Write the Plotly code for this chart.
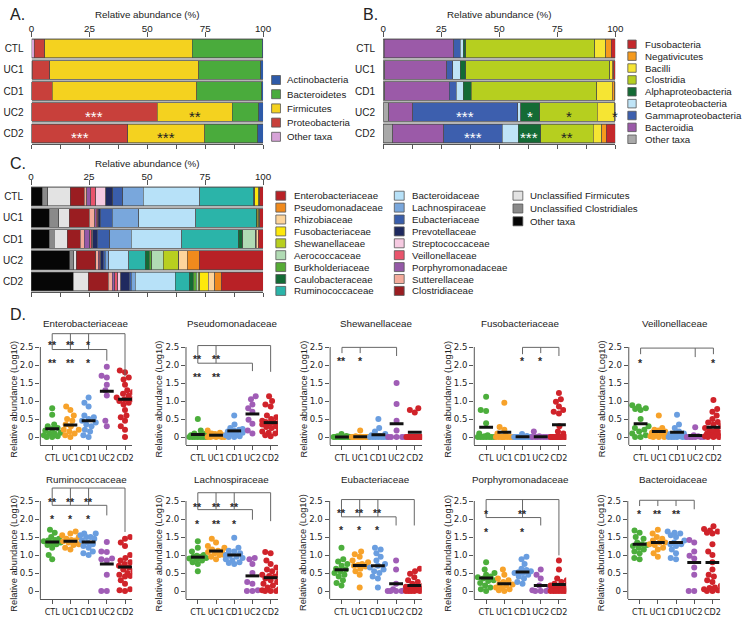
import plotly.graph_objects as go

W, H = 748, 631
FONT = "Liberation Sans, Arial, Helvetica, sans-serif"
NARROW = "Liberation Sans Narrow, Arial Narrow, DejaVu Sans Condensed, Liberation Sans, sans-serif"
TXT = "#222222"

groups = ["CTL", "UC1", "CD1", "UC2", "CD2"]

# ---------------- Panel A : phyla (stack order, left -> right) ----------------
phyla = ["Other taxa", "Proteobacteria", "Firmicutes", "Bacteroidetes", "Actinobacteria"]
phyla_colors = ["#d7a3d8", "#c8403b", "#f4d21f", "#4aab3c", "#2e5aa8"]
phyla_CTL = [1.1, 4.7, 63.6, 30.2, 0.4]
phyla_UC1 = [0.3, 7.6, 64.3, 26.8, 1.0]
phyla_CD1 = [0.2, 8.7, 62.5, 28.0, 0.6]
phyla_UC2 = [0.1, 54.1, 32.6, 11.4, 1.8]
phyla_CD2 = [0.1, 41.4, 33.3, 22.8, 2.4]
phyla_stars = [("UC2", "Proteobacteria", "***", "white"), ("UC2", "Firmicutes", "**", "#222222"),
               ("CD2", "Proteobacteria", "***", "white"), ("CD2", "Firmicutes", "***", "#222222")]

# ---------------- Panel B : classes ----------------
classes = ["Other taxa", "Bacteroidia", "Gammaproteobacteria", "Betaproteobacteria",
           "Alphaproteobacteria", "Clostridia", "Bacilli", "Negativicutes", "Fusobacteria"]
class_colors = ["#a9a9a9", "#9b5aa8", "#3d5fae", "#bfe4f7", "#146b35", "#b6cf1f",
                "#f6e533", "#f59a1d", "#c4282b"]
class_CTL = [0.4, 30.0, 2.8, 1.4, 0.9, 55.7, 4.6, 2.4, 1.8]
class_UC1 = [0.7, 26.8, 2.4, 3.3, 2.3, 62.0, 1.1, 0.8, 0.6]
class_CD1 = [0.7, 27.7, 3.1, 3.0, 3.4, 54.1, 6.7, 1.1, 0.2]
class_UC2 = [2.5, 10.2, 45.2, 1.4, 8.2, 24.7, 7.5, 0.2, 0.1]
class_CD2 = [4.1, 22.0, 25.3, 6.7, 9.8, 22.6, 3.6, 1.9, 4.0]
class_stars = [("UC2", "Gammaproteobacteria", "***", "white"), ("UC2", "Alphaproteobacteria", "*", "white"),
               ("UC2", "Clostridia", "*", "#222222"), ("UC2", "Fusobacteria", "*", "#222222"),
               ("CD2", "Gammaproteobacteria", "***", "white"), ("CD2", "Alphaproteobacteria", "***", "white"),
               ("CD2", "Clostridia", "**", "#222222")]

# ---------------- Panel C : families ----------------
families = ["Other taxa", "Unclassified Clostridiales", "Unclassified Firmicutes", "Clostridiaceae",
            "Sutterellaceae", "Porphyromonadaceae", "Veillonellaceae", "Streptococcaceae",
            "Prevotellaceae", "Eubacteriaceae", "Lachnospiraceae", "Bacteroidaceae",
            "Ruminococcaceae", "Caulobacteraceae", "Burkholderiaceae", "Aerococcaceae",
            "Shewanellaceae", "Fusobacteriaceae", "Rhizobiaceae", "Pseudomonadaceae",
            "Enterobacteriaceae"]
family_colors = ["#060606", "#8a8a8a", "#e3e3e3", "#9a1d21", "#f4ab9b", "#9459a7", "#e9546c",
                 "#f6cae1", "#1f2a5f", "#3a5eab", "#79a7dc", "#b7e1f8", "#2bb4a9", "#136a35",
                 "#56ab35", "#b1dbb4", "#b8cf1f", "#fde80c", "#fdd49b", "#f08a1d", "#b82126"]
fam_CTL = [4.9, 2.2, 9.8, 6.1, 1.0, 1.8, 2.0, 4.3, 3.2, 4.2, 8.9, 24.3, 23.3, 0.3, 0.0, 0.0, 0.1, 1.8, 0.2, 0.2, 1.4]
fam_UC1 = [7.8, 4.2, 4.5, 8.5, 2.5, 0.6, 0.6, 0.3, 0.9, 5.0, 11.6, 24.4, 26.1, 0.5, 0.0, 0.0, 0.1, 0.5, 0.3, 0.2, 1.4]
fam_CD1 = [7.8, 2.1, 5.6, 5.8, 1.6, 2.5, 0.7, 0.4, 2.0, 5.4, 9.2, 21.9, 24.4, 1.7, 0.1, 5.7, 0.0, 0.1, 0.9, 0.1, 2.0]
fam_UC2 = [16.7, 1.8, 0.9, 8.4, 1.2, 0.4, 0.4, 0.2, 1.2, 0.8, 1.5, 8.7, 7.1, 1.7, 1.0, 4.9, 6.7, 0.0, 3.8, 5.1, 27.5]
fam_CD2 = [18.1, 0.0, 6.6, 8.5, 1.8, 1.0, 1.4, 1.2, 3.8, 0.7, 1.8, 17.2, 6.0, 1.8, 1.4, 0.7, 0.7, 3.6, 2.8, 2.8, 18.1]

# ---------------- Panel D : per-family log10 abundance (CTL, UC1, CD1, UC2, CD2) ----------------
group_colors = ["#4cae3c", "#f7a22a", "#6a9ee0", "#a05db6", "#d0232a"]

entero = [[0.8, 0.62, 0.35, 0.3, 0.25, 0.22, 0.18, 0.12, 0.1, 0.05, 0.02, 0.0, 0.0, 0.1],
          [0.85, 0.75, 0.6, 0.5, 0.45, 0.35, 0.3, 0.2, 0.15, 0.1, 0.05, 0.0, 0.2],
          [1.1, 0.95, 0.85, 0.6, 0.55, 0.5, 0.45, 0.4, 0.3, 0.2, 0.15, 0.05, 0.0, 0.35],
          [1.95, 1.7, 1.65, 1.45, 1.3, 1.15, 0.45, 0.3],
          [1.85, 1.8, 1.65, 1.6, 1.45, 1.3, 1.25, 1.15, 1.1, 1.05, 1.0, 0.95, 0.9, 0.75, 0.6, 0.55,
           0.45, 0.3, 0.2, 0.0, 1.2, 1.05]]
entero_mean = [0.23, 0.33, 0.45, 1.27, 1.05]
pseudo = [[0.5, 0.18, 0.1, 0.08, 0.05, 0.04, 0.02, 0.0, 0.0, 0.0, 0.0, 0.0, 0.0, 0.0],
          [0.18, 0.12, 0.1, 0.08, 0.05, 0.04, 0.02, 0.02, 0.0, 0.0, 0.0, 0.0, 0.0],
          [0.6, 0.35, 0.25, 0.22, 0.2, 0.18, 0.15, 0.12, 0.1, 0.08, 0.05, 0.02, 0.0, 0.0],
          [1.13, 1.05, 0.9, 0.8, 0.7, 0.48, 0.37, 0.18, 0.1],
          [1.13, 1.0, 0.9, 0.85, 0.55, 0.5, 0.45, 0.42, 0.4, 0.38, 0.35, 0.3, 0.28, 0.25, 0.2, 0.15,
           0.12, 0.1, 0.05, 0.02, 0.6, 0.4]]
pseudo_mean = [0.07, 0.05, 0.17, 0.64, 0.4]
shewan = [[0.08, 0.03, 0.02, 0.01, 0, 0, 0, 0, 0, 0, 0, 0, 0, 0],
          [0.18, 0.02, 0, 0, 0, 0, 0, 0, 0, 0, 0, 0, 0],
          [0.5, 0.25, 0.15, 0.08, 0.05, 0.03, 0.02, 0, 0, 0, 0, 0, 0, 0],
          [1.5, 0.92, 0.45, 0.18, 0.0, 0, 0, 0, 0],
          [0.8, 0.75, 0.68, 0, 0, 0, 0, 0, 0, 0, 0, 0, 0, 0, 0, 0, 0, 0, 0, 0, 0, 0]]
shewan_mean = [0.0, 0.01, 0.06, 0.37, 0.13]
fuso = [[1.12, 0.75, 0.72, 0.38, 0.1, 0.05, 0.02, 0, 0, 0, 0, 0, 0, 0],
        [0.95, 0.28, 0.2, 0.1, 0.05, 0, 0, 0, 0, 0, 0, 0, 0],
        [0.08, 0.03, 0, 0, 0, 0, 0, 0, 0, 0, 0, 0, 0, 0],
        [0.15, 0.02, 0, 0, 0, 0, 0, 0, 0],
        [1.22, 1.05, 0.98, 0.85, 0.75, 0.7, 0.65, 0.3, 0.15, 0.1, 0, 0, 0, 0, 0, 0, 0, 0, 0, 0, 0, 0]]
fuso_mean = [0.27, 0.13, 0.01, 0.01, 0.34]
veill = [[0.88, 0.85, 0.8, 0.78, 0.75, 0.5, 0.3, 0.2, 0.15, 0.1, 0.05, 0.0, 0.0, 0.25],
         [0.6, 0.25, 0.2, 0.18, 0.15, 0.12, 0.1, 0.08, 0.05, 0.02, 0, 0, 0],
         [0.62, 0.35, 0.25, 0.15, 0.1, 0.08, 0.05, 0.02, 0, 0, 0, 0, 0, 0],
         [0.27, 0.05, 0.02, 0, 0, 0, 0, 0, 0],
         [1.03, 0.78, 0.7, 0.6, 0.5, 0.42, 0.35, 0.3, 0.25, 0.2, 0.18, 0.15, 0.12, 0.1, 0.08, 0.05,
          0.03, 0.02, 0, 0, 0, 0.4]]
veill_mean = [0.37, 0.15, 0.13, 0.04, 0.27]
rumino = [[1.7, 1.62, 1.5, 1.45, 1.4, 1.38, 1.35, 1.3, 1.28, 1.2, 1.0, 0.88, 1.42, 1.33],
          [1.65, 1.6, 1.5, 1.45, 1.42, 1.4, 1.38, 1.35, 1.3, 1.28, 1.2, 1.15, 1.55],
          [1.6, 1.6, 1.55, 1.5, 1.45, 1.4, 1.35, 1.3, 1.25, 1.2, 1.1, 1.05, 1.0, 1.5],
          [1.36, 1.1, 1.08, 0.9, 0.88, 0.85, 0.45, 0.0, 0.0],
          [1.5, 1.45, 1.35, 1.25, 1.0, 0.92, 0.85, 0.75, 0.7, 0.65, 0.6, 0.55, 0.5, 0.45, 0.42, 0.4,
           0.3, 0.2, 0.05, 0.02, 0.0, 0.8]]
rumino_mean = [1.36, 1.38, 1.36, 0.75, 0.67]
lachno = [[1.38, 1.2, 1.1, 1.0, 0.98, 0.95, 0.92, 0.9, 0.88, 0.85, 0.8, 0.75, 0.55, 0.95],
          [1.45, 1.35, 1.25, 1.2, 1.15, 1.12, 1.1, 1.05, 1.0, 1.0, 0.95, 0.88, 1.08],
          [1.48, 1.2, 1.12, 1.1, 1.05, 1.0, 0.98, 0.95, 0.92, 0.88, 0.85, 0.8, 0.78, 0.75],
          [0.92, 0.88, 0.75, 0.5, 0.25, 0.2, 0.02, 0.0, 0.0],
          [1.08, 1.05, 0.85, 0.75, 0.65, 0.6, 0.55, 0.5, 0.45, 0.42, 0.4, 0.35, 0.3, 0.25, 0.2, 0.15,
           0.1, 0.05, 0.02, 0, 0, 0]]
lachno_mean = [0.94, 1.11, 1.0, 0.42, 0.37]
eubac = [[1.2, 0.88, 0.82, 0.75, 0.7, 0.62, 0.6, 0.55, 0.5, 0.45, 0.4, 0.3, 0.22, 0.15],
         [1.1, 1.02, 0.95, 0.85, 0.8, 0.75, 0.72, 0.7, 0.68, 0.62, 0.55, 0.45, 0.1],
         [1.2, 1.15, 1.05, 0.95, 0.85, 0.75, 0.7, 0.65, 0.6, 0.55, 0.5, 0.4, 0.35, 0.1],
         [0.85, 0.6, 0.2, 0.05, 0.02, 0, 0, 0, 0],
         [0.62, 0.55, 0.48, 0.38, 0.3, 0.25, 0.2, 0.15, 0.12, 0.1, 0.08, 0.05, 0.05, 0.03, 0.02,
          0, 0, 0, 0, 0, 0, 0.1]]
eubac_mean = [0.59, 0.71, 0.7, 0.2, 0.15]
porph = [[0.8, 0.6, 0.5, 0.45, 0.4, 0.38, 0.35, 0.3, 0.28, 0.22, 0.15, 0.1, 0.05, 0.0],
         [0.6, 0.45, 0.35, 0.3, 0.25, 0.2, 0.15, 0.1, 0.08, 0.05, 0.02, 0, 0.18],
         [0.95, 0.88, 0.75, 0.62, 0.58, 0.55, 0.52, 0.5, 0.45, 0.4, 0.35, 0.25, 0.2, 0.5],
         [0.6, 0.45, 0.35, 0.15, 0.05, 0.02, 0, 0, 0],
         [0.85, 0.6, 0.35, 0.25, 0.2, 0.15, 0.12, 0.1, 0.08, 0.05, 0.05, 0.03, 0.02, 0, 0, 0, 0, 0,
          0, 0, 0.3, 0.15]]
porph_mean = [0.36, 0.2, 0.53, 0.15, 0.18]
bacter = [[1.68, 1.62, 1.5, 1.45, 1.35, 1.3, 1.28, 1.25, 1.2, 1.15, 1.1, 1.05, 0.92, 0.88],
          [1.7, 1.6, 1.5, 1.45, 1.4, 1.35, 1.3, 1.28, 1.2, 1.15, 1.05, 0.95, 1.35],
          [1.65, 1.62, 1.6, 1.55, 1.5, 1.4, 1.35, 1.3, 1.25, 1.15, 1.05, 0.92, 0.88, 1.3],
          [1.42, 1.35, 1.1, 0.98, 0.9, 0.65, 0.45, 0.0, 0.0],
          [1.8, 1.72, 1.68, 1.65, 1.62, 1.6, 1.3, 1.1, 1.0, 0.8, 0.6, 0.45, 0.4, 0.3, 0.25, 0.15,
           0.1, 0.08, 0.05, 0.02, 0, 0]]
bacter_mean = [1.3, 1.35, 1.35, 0.79, 0.79]

# significance brackets: (level, from_group, to_group, [(group, drop_to_level), ...]) ; stars: (group, level, text)
entero_br = [(2.87, 0, 4, [(0, 2.43), (1, 2.43), (2, 2.43), (4, 1.68)]), (2.43, 0, 3, [(3, 2.12)])]
entero_st = [(0, 2.6, "**"), (1, 2.6, "**"), (2, 2.6, "*"), (0, 2.1, "**"), (1, 2.1, "**"), (2, 2.1, "*")]
pseudo_br = [(2.54, 0, 4, [(0, 2.05), (1, 2.05), (4, 1.81)]), (2.05, 0, 3, [(3, 1.83)])]
pseudo_st = [(0, 2.22, "**"), (1, 2.22, "**"), (0, 1.73, "**"), (1, 1.73, "**")]
shewan_br = [(2.49, 0, 3, [(0, 2.33), (1, 2.33), (3, 2.25)])]
shewan_st = [(0, 2.16, "**"), (1, 2.16, "*")]
fuso_br = [(2.49, 2, 4, [(2, 2.3), (3, 2.33), (4, 2.25)])]
fuso_st = [(2, 2.16, "*"), (3, 2.16, "*")]
veill_br = [(2.47, 0, 4, [(0, 2.3), (3, 2.22), (4, 2.3)])]
veill_st = [(0, 2.12, "*"), (4, 2.12, "*")]
rumino_br = [(2.86, 0, 4, [(0, 2.38), (1, 2.38), (2, 2.38), (4, 1.64)]), (2.38, 0, 3, [(3, 2.1)])]
rumino_st = [(0, 2.54, "**"), (1, 2.54, "**"), (2, 2.54, "**"), (0, 2.06, "*"), (1, 2.06, "*"), (2, 2.06, "*")]
lachno_br = [(2.73, 0, 4, [(0, 2.26), (1, 2.26), (2, 2.26), (4, 1.94)]), (2.26, 0, 3, [(3, 1.98)])]
lachno_st = [(0, 2.4, "**"), (1, 2.4, "**"), (2, 2.4, "**"), (0, 1.92, "*"), (1, 1.92, "**"), (2, 1.92, "*")]
eubac_br = [(2.54, 0, 4, [(0, 2.06), (1, 2.06), (2, 2.06), (4, 1.82)]), (2.06, 0, 3, [(3, 1.82)])]
eubac_st = [(0, 2.22, "**"), (1, 2.22, "**"), (2, 2.22, "**"), (0, 1.75, "*"), (1, 1.75, "*"), (2, 1.75, "*")]
porph_br = [(2.54, 0, 4, [(0, 2.04), (2, 2.04), (4, 0.99)]), (2.04, 0, 3, [(3, 1.82)])]
porph_st = [(0, 2.19, "*"), (2, 2.19, "**"), (0, 1.69, "*"), (2, 1.69, "*")]
bacter_br = [(2.52, 0, 3, [(0, 2.36), (1, 2.36), (2, 2.36), (3, 2.27)])]
bacter_st = [(0, 2.2, "*"), (1, 2.2, "**"), (2, 2.2, "**")]

d_panels = [
    ("Enterobacteriaceae", entero, entero_mean, entero_br, entero_st),
    ("Pseudomonadaceae", pseudo, pseudo_mean, pseudo_br, pseudo_st),
    ("Shewanellaceae", shewan, shewan_mean, shewan_br, shewan_st),
    ("Fusobacteriaceae", fuso, fuso_mean, fuso_br, fuso_st),
    ("Veillonellaceae", veill, veill_mean, veill_br, veill_st),
    ("Ruminococcaceae", rumino, rumino_mean, rumino_br, rumino_st),
    ("Lachnospiraceae", lachno, lachno_mean, lachno_br, lachno_st),
    ("Eubacteriaceae", eubac, eubac_mean, eubac_br, eubac_st),
    ("Porphyromonadaceae", porph, porph_mean, porph_br, porph_st),
    ("Bacteroidaceae", bacter, bacter_mean, bacter_br, bacter_st),
]

# ============================ helpers ============================
def P(x):
    return x / W


def Q(y):
    return 1 - y / H


def xkey(k):
    return "xaxis" if k == 1 else f"xaxis{k}"


def ykey(k):
    return "yaxis" if k == 1 else f"yaxis{k}"


def xref(k):
    return "x" if k == 1 else f"x{k}"


def yref(k):
    return "y" if k == 1 else f"y{k}"


fig = go.Figure()
layout = dict(width=W, height=H, margin=dict(l=0, r=0, t=0, b=0), paper_bgcolor="white",
              plot_bgcolor="white", barmode="stack", bargap=0.12, showlegend=False,
              font=dict(family=FONT, size=10, color=TXT))
shapes = []
annots = []


def text(x, y, s, size=10, xanchor="center", yanchor="middle", angle=0, color=TXT, family=FONT, **kw):
    annots.append(dict(x=P(x), y=Q(y), xref="paper", yref="paper", text=s, showarrow=False,
                       xanchor=xanchor, yanchor=yanchor, textangle=angle,
                       font=dict(family=family, size=size, color=color), **kw))


def legend(items, x_sw, x_txt, y0, dy, sw_w, sw_h, size=9.7):
    for i, (name, col) in enumerate(items):
        yc = y0 + i * dy
        shapes.append(dict(type="rect", xref="paper", yref="paper", x0=P(x_sw), x1=P(x_sw + sw_w),
                           y0=Q(yc + sw_h / 2), y1=Q(yc - sw_h / 2), fillcolor=col,
                           line=dict(color="#555555", width=0.8)))
        text(x_txt, yc, name, size=size, xanchor="left")


def stacked(kx, ky, xpx, ypx, taxa, colors, rows, title_y, lab_len, stars):
    xa, xb, xc, ya = xref(kx), xref(kx + 1), xref(kx + 2), yref(ky)
    ypos = list(range(len(groups)))
    for j, tax in enumerate(taxa):
        fig.add_trace(go.Bar(x=[r[j] for r in rows], y=ypos, orientation="h", name=tax,
                             marker=dict(color=colors[j], line=dict(color="#4a4a4a", width=0.6)),
                             xaxis=xa, yaxis=ya, hoverinfo="skip"))
    for xo in (xb, xc):
        fig.add_trace(go.Scatter(x=[0, 100], y=[0, 0], mode="none", xaxis=xo, yaxis=ya,
                                 hoverinfo="skip", showlegend=False))
    layout[xkey(kx)] = dict(domain=[P(xpx[0]), P(xpx[1])], range=[0, 100], side="top", anchor=ya,
                            tickvals=[0, 25, 50, 75, 100], ticks="outside", ticklen=lab_len,
                            tickcolor="rgba(0,0,0,0)", showline=False, showgrid=False,
                            zeroline=False, tickfont=dict(size=9.8))
    layout[xkey(kx + 1)] = dict(overlaying=xa, range=[0, 100], side="bottom", anchor=ya,
                                tick0=0, dtick=12.5, ticks="outside", ticklen=4, tickcolor="#555555",
                                showticklabels=False, showline=True, linecolor="#555555",
                                linewidth=1, showgrid=False, zeroline=False)
    layout[xkey(kx + 2)] = dict(overlaying=xa, range=[0, 100], side="top", anchor=ya,
                                tickvals=[0, 25, 50, 75, 100], ticks="outside", ticklen=5,
                                tickcolor="#555555", showticklabels=False, showline=False,
                                showgrid=False, zeroline=False)
    layout[ykey(ky)] = dict(domain=[Q(ypx[1]), Q(ypx[0])], range=[4.5, -0.5], anchor=xa,
                            tickvals=ypos, ticktext=groups, ticks="outside", ticklen=5,
                            tickcolor="rgba(0,0,0,0)", showline=False, showgrid=False,
                            zeroline=False, tickfont=dict(size=10))
    shapes.append(dict(type="rect", xref=xa, yref=ya, x0=0, x1=100, y0=-0.5, y1=4.5,
                       fillcolor="#b5b5b5", line=dict(width=0), layer="below"))
    text((xpx[0] + xpx[1]) / 2, title_y, "Relative abundance (%)", size=9.8)
    for g, tax, s, col in stars:
        gi = groups.index(g)
        ti = taxa.index(tax)
        left = sum(rows[gi][:ti])
        mid = left + rows[gi][ti] / 2
        annots.append(dict(x=mid, y=gi, xref=xa, yref=ya, text=s, showarrow=False,
                           xanchor="center", yanchor="middle", yshift=-4,
                           font=dict(family=FONT, size=15, color=col)))


# ---------------- Panels A, B, C ----------------
stacked(1, 1, (29, 264.3), (38.1, 143.9), phyla, phyla_colors,
        [phyla_CTL, phyla_UC1, phyla_CD1, phyla_UC2, phyla_CD2], 15, 1, phyla_stars)
legend(list(zip(phyla, phyla_colors))[::-1], 273, 286.5, 80, 14.2, 9, 9)

stacked(4, 2, (386.3, 622.3), (38.1, 143.9), classes, class_colors,
        [class_CTL, class_UC1, class_CD1, class_UC2, class_CD2], 15, 1, class_stars)
legend(list(zip(classes, class_colors))[::-1], 635, 650, 44.3, 11.87, 8.5, 8.5)

stacked(7, 3, (28.5, 264.3), (186, 292.2), families, family_colors,
        [fam_CTL, fam_UC1, fam_CD1, fam_UC2, fam_CD2], 163.5, 1, [])
fam_items = list(zip(families, family_colors))[::-1]
legend(fam_items[0:9], 277.3, 293.3, 195.7, 11.9, 10, 9)
legend(fam_items[9:18], 397.7, 413.3, 195.7, 11.9, 10, 9)
legend(fam_items[18:21], 518.3, 534, 195.7, 12.8, 10, 9)

text(5, 14, "A.", size=16, xanchor="left")
text(364, 14, "B.", size=16, xanchor="left")
text(5, 164, "C.", size=16, xanchor="left")
text(5, 314, "D.", size=16, xanchor="left")

# ---------------- Panel D ----------------
UX, UY = 18.5, 36.0
XR = [-0.65, 4.4]
YR = [-0.22, 3.0]


def swarm(vals, d=5.6, cap=8.5):
    idx = sorted(range(len(vals)), key=lambda i: (vals[i], i))
    placed = []
    out = [0.0] * len(vals)
    grid = [k * 0.5 for k in range(-int(cap * 2), int(cap * 2) + 1)]
    for i in idx:
        y = vals[i] * UY
        cands = [0.0] + grid
        for a, b in placed:
            dy = y - b
            if abs(dy) < d:
                dx = (d * d - dy * dy) ** 0.5
                cands += [a + dx, a - dx]
        cands = sorted([c for c in cands if abs(c) <= cap], key=lambda c: (abs(c), c))
        best = None
        for c in cands:
            if all((c - a) ** 2 + (y - b) ** 2 >= d * d - 1e-6 for a, b in placed):
                best = c
                break
        if best is None:
            best = max(grid, key=lambda c: (round(min((c - a) ** 2 + (y - b) ** 2 for a, b in placed), 3), -abs(c)))
        placed.append((best, y))
        out[i] = best / UX
    return out


row_zero = [437, 591]
row_ctl = [[50, 198, 344.5, 491, 648], [50, 198, 344, 491, 647]]
row_title = [323, 479]

for n, (name, data, means, brs, sts) in enumerate(d_panels):
    r, c = divmod(n, 5)
    kx, ky = 10 + n, 4 + n
    xa, ya = xref(kx), yref(ky)
    z0 = row_zero[r]
    left = row_ctl[r][c] + XR[0] * UX
    right = left + (XR[1] - XR[0]) * UX
    top = z0 - YR[1] * UY
    bot = z0 - YR[0] * UY
    layout[xkey(kx)] = dict(domain=[P(left), P(right)], range=XR, anchor=ya, tickvals=list(range(5)),
                            ticktext=groups, tickangle=0, ticks="outside", ticklen=4,
                            tickcolor="#555555", showline=True, linecolor="#555555", linewidth=1,
                            showgrid=False, zeroline=False, tickfont=dict(family=NARROW, size=9))
    layout[ykey(ky)] = dict(domain=[Q(bot), Q(top)], range=YR, anchor=xa,
                            tickvals=[0, 0.5, 1, 1.5, 2, 2.5],
                            ticktext=["0", "0.5", "1.0", "1.5", "2.0", "2.5"], ticks="outside",
                            ticklen=4, tickcolor="#555555", showline=False, showgrid=False,
                            zeroline=False, tickfont=dict(family=NARROW, size=9.5))
    shapes.append(dict(type="line", xref=f"{xa} domain", yref=ya, x0=0, x1=0, y0=YR[0], y1=2.5,
                       line=dict(color="#555555", width=1)))
    for g, vals in enumerate(data):
        offs = swarm(vals)
        fig.add_trace(go.Scatter(x=[g + o for o in offs], y=vals, mode="markers",
                                 marker=dict(size=6, color=group_colors[g], line=dict(width=0)),
                                 xaxis=xa, yaxis=ya, hoverinfo="skip", showlegend=False))
    mx, my = [], []
    for g, m in enumerate(means):
        mx += [g - 0.38, g + 0.38, None]
        my += [m, m, None]
    fig.add_trace(go.Scatter(x=mx, y=my, mode="lines", line=dict(color="#111111", width=3),
                             xaxis=xa, yaxis=ya, hoverinfo="skip", showlegend=False))
    for lvl, g0, g1, drops in brs:
        shapes.append(dict(type="line", xref=xa, yref=ya, x0=g0, x1=g1, y0=lvl, y1=lvl,
                           line=dict(color="#666666", width=1)))
        for g, yend in drops:
            shapes.append(dict(type="line", xref=xa, yref=ya, x0=g, x1=g, y0=lvl, y1=yend,
                               line=dict(color="#666666", width=1)))
    for g, lvl, s in sts:
        annots.append(dict(x=g, y=lvl, xref=xa, yref=ya, text=f"<b>{s}</b>", showarrow=False,
                           xanchor="center", yanchor="middle", yshift=-2,
                           font=dict(family=FONT, size=10.5, color="#2a2a2a")))
    text((left + right) / 2, row_title[r], name, size=9.8)
    text(left - 27, z0 - 1.25 * UY + 0.11 * UY + 3, "Relative abundance (Log10)", size=9.3, angle=-90)

layout["shapes"] = shapes
layout["annotations"] = annots
fig.update_layout(**layout)
fig.write_html("out.html")
